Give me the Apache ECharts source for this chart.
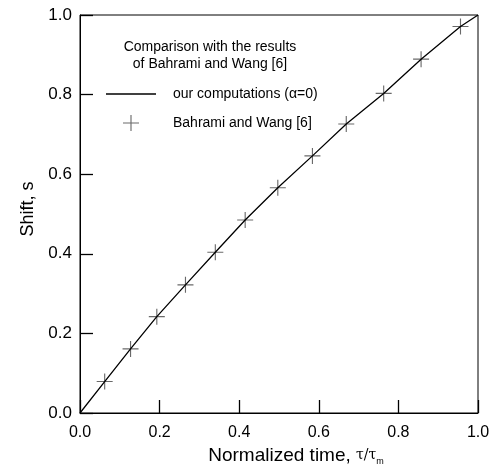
<!DOCTYPE html>
<html><head><meta charset="utf-8">
<script src="https://cdn.jsdelivr.net/npm/echarts@6/dist/echarts.min.js"></script>
<style>html,body{margin:0;padding:0;background:#fff}#c{width:494px;height:465px}</style>
</head><body><div id="c"></div>
<script>
const xTicks = [0.0, 0.2, 0.4, 0.6, 0.8, 1.0];
const yTicks = [0.0, 0.2, 0.4, 0.6, 0.8, 1.0];
// Bahrami and Wang [6] (crosses)
const refTime  = [0.062, 0.127, 0.193, 0.265, 0.340, 0.415, 0.497, 0.584, 0.669, 0.763, 0.857, 0.956];
const refShift = [0.079, 0.161, 0.242, 0.322, 0.404, 0.485, 0.566, 0.646, 0.726, 0.803, 0.889, 0.971];
// our computations (alpha = 0)
const compTime  = [0.0, 0.062, 0.127, 0.193, 0.265, 0.340, 0.415, 0.497, 0.584, 0.669, 0.763, 0.857, 0.956, 1.0];
const compShift = [0.0, 0.079, 0.161, 0.242, 0.322, 0.404, 0.485, 0.566, 0.646, 0.726, 0.803, 0.889, 0.971, 1.0];

const FONT = 'Liberation Sans, Arial, sans-serif';
const cross = 'path://M-0.07,-1L0.07,-1L0.07,-0.07L1,-0.07L1,0.07L0.07,0.07L0.07,1L-0.07,1L-0.07,0.07L-1,0.07L-1,-0.07L-0.07,-0.07Z';
const lineIcon = 'path://M0,0L50,0L50,1.3L0,1.3Z';

const chart = echarts.init(document.getElementById('c'), null, {renderer: 'canvas'});
chart.setOption({
  animation: false,
  backgroundColor: '#fff',
  title: {
    show: true,
    text: 'Comparison with the results\nof Bahrami and Wang [6]',
    left: 210, top: 39, textAlign: 'center', padding: 0,
    textStyle: {fontFamily: FONT, fontSize: 14, fontWeight: 'normal', color: '#000', lineHeight: 17, align: 'center'}
  },
  legend: {
    show: true,
    orient: 'vertical', left: 106, top: 87, padding: 0,
    itemWidth: 50, itemHeight: 16, itemGap: 14,
    textStyle: {fontFamily: FONT, fontSize: 14, color: '#000', padding: [0, 0, 0, 12]},
    data: [
      {name: 'our computations (\u03B1=0)', icon: lineIcon},
      {name: 'Bahrami and Wang [6]'}
    ]
  },
  grid: {left: 80, right: 16, top: 15, bottom: 52, show: true, borderColor: '#000', borderWidth: 1,
    containLabel: false, outerBoundsMode: 'none'},
  xAxis: {
    type: 'value', min: 0, max: 1, interval: 0.2,
    axisLine: {show: true, lineStyle: {color: '#000', width: 1}},
    axisTick: {show: true, inside: true, length: 13, lineStyle: {color: '#000', width: 1.3}},
    splitLine: {show: false},
    axisLabel: {show: true, fontFamily: FONT, fontSize: 16, color: '#000', margin: 12,
      formatter: v => xTicks.find(t => Math.abs(t - v) < 1e-9) !== undefined ? v.toFixed(1) : ''},
    name: 'Normalized time, {t|\u03C4/\u03C4}{s|m}',
    nameLocation: 'middle', nameGap: 27,
    nameTextStyle: {fontFamily: FONT, fontSize: 19, color: '#000', padding: [0, 0, 0, 34],
      rich: {
        t: {fontFamily: 'DejaVu Serif, serif', fontSize: 14, color: '#000'},
        s: {fontFamily: FONT, fontSize: 9, color: '#000', padding: [13, 0, 0, 0]}
      }}
  },
  yAxis: {
    type: 'value', min: 0, max: 1, interval: 0.2,
    axisLine: {show: true, lineStyle: {color: '#000', width: 1}},
    axisTick: {show: true, inside: true, length: 13, lineStyle: {color: '#000', width: 1.3}},
    splitLine: {show: false},
    axisLabel: {show: true, fontFamily: FONT, fontSize: 17, color: '#000', margin: 8,
      formatter: v => yTicks.find(t => Math.abs(t - v) < 1e-9) !== undefined ? v.toFixed(1) : ''},
    name: 'Shift, s', nameLocation: 'middle', nameGap: 43, nameRotate: 90,
    nameTextStyle: {fontFamily: FONT, fontSize: 18, color: '#000', padding: [0, 0, 0, 10]}
  },
  series: [
    {
      name: 'our computations (\u03B1=0)', type: 'line',
      data: compTime.map((x, i) => [x, compShift[i]]),
      showSymbol: false, symbol: 'none', smooth: false, symbolKeepAspect: true,
      lineStyle: {color: '#000', width: 1.3},
      itemStyle: {color: '#000'}, z: 3
    },
    {
      name: 'Bahrami and Wang [6]', type: 'scatter',
      data: refTime.map((x, i) => [x, refShift[i]]),
      symbol: cross, symbolSize: 16, symbolKeepAspect: true,
      itemStyle: {color: '#444'}, z: 2
    }
  ]
});
</script>
</body></html>
